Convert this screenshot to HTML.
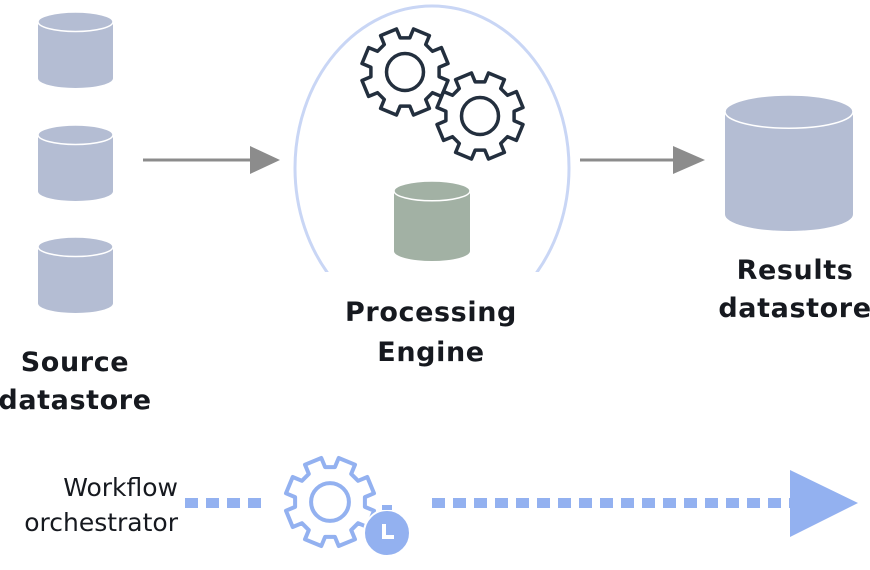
<!DOCTYPE html>
<html><head><meta charset="utf-8"><style>
body{margin:0;background:#fff;width:870px;height:565px;overflow:hidden}
text{font-family:"DejaVu Sans","Liberation Sans",sans-serif;fill:#16191f}
.b{font-weight:bold;font-size:27px;text-anchor:middle;letter-spacing:0.6px}
.n{font-size:25px;text-anchor:end}
</style></head><body>
<svg id="s" width="870" height="565" viewBox="0 0 870 565">
<defs><clipPath id="c"><rect x="0" y="0" width="870" height="272"/></clipPath></defs>
<ellipse cx="432" cy="168" rx="137" ry="162" fill="none" stroke="#c9d6f5" stroke-width="3" clip-path="url(#c)"/>
<line x1="143" y1="160" x2="252" y2="160" stroke="#8c8c8c" stroke-width="3"/>
<polygon points="250,146 280,160 250,174" fill="#8c8c8c"/>
<line x1="580" y1="160" x2="675" y2="160" stroke="#8c8c8c" stroke-width="3"/>
<polygon points="673,146 705,160 673,174" fill="#8c8c8c"/>
<line x1="185" y1="503" x2="265" y2="503" stroke="#93b1f0" stroke-width="10" stroke-dasharray="13,8"/>
<line x1="432" y1="503" x2="792" y2="503" stroke="#93b1f0" stroke-width="10" stroke-dasharray="13,8"/>
<polygon points="790,470 858,503 790,537" fill="#93b1f0"/>
<text class="b" x="75" y="371">Source</text>
<text class="b" x="75" y="409">datastore</text>
<text class="b" x="431" y="321">Processing</text>
<text class="b" x="431" y="361">Engine</text>
<text class="b" x="795" y="279">Results</text>
<text class="b" x="795" y="317">datastore</text>
<text class="n" x="178" y="496">Workflow</text>
<text class="n" x="178" y="531">orchestrator</text>
</svg>
<script>
var s=document.getElementById('s'),NS='http://www.w3.org/2000/svg';
function el(t,a){var e=document.createElementNS(NS,t);for(var k in a)e.setAttribute(k,a[k]);s.appendChild(e);return e;}
function gear(cx,cy,R,col,w){var n=8,r=R*0.8,tw=R*0.2,d='';
for(var i=0;i<n;i++){var a=i*2*Math.PI/n+Math.PI/8,ca=Math.cos(a),sa=Math.sin(a),px=-sa,py=ca;
var b=Math.asin(tw/r);
var pts=[[cx+r*Math.cos(a-b),cy+r*Math.sin(a-b)],[cx+R*ca-tw*px,cy+R*sa-tw*py],[cx+R*ca+tw*px,cy+R*sa+tw*py],[cx+r*Math.cos(a+b),cy+r*Math.sin(a+b)]];
pts.forEach(function(p,j){d+=(i==0&&j==0?'M':'L')+p[0].toFixed(1)+' '+p[1].toFixed(1)+' ';});}
d+='Z';el('path',{d:d,fill:'#fff',stroke:col,'stroke-width':w,'stroke-linejoin':'round'});
el('circle',{cx:cx,cy:cy,r:R*0.43,fill:'none',stroke:col,'stroke-width':w});}
function cyl(x,y,w,h,col){var ry=w*0.13;
el('path',{d:'M'+x+' '+(y+ry)+' V'+(y+h-ry)+' A'+(w/2)+' '+ry+' 0 0 0 '+(x+w)+' '+(y+h-ry)+' V'+(y+ry)+' Z',fill:col});
el('ellipse',{cx:x+w/2,cy:y+ry,rx:w/2,ry:ry,fill:col,stroke:'#fff','stroke-width':1.5});}
cyl(38,12,75,76,'#b4bdd3');cyl(38,125,75,76,'#b4bdd3');cyl(38,237,75,76,'#b4bdd3');
cyl(725,95,128,136,'#b4bdd3');cyl(394,181,76,80,'#a2b1a4');
gear(405,72,43,'#232f3e',3.5);gear(480,116,43,'#232f3e',3.5);
gear(330,502,44,'#93b1f0',4);
el('circle',{cx:387,cy:533,r:23,fill:'#93b1f0',stroke:'#fff','stroke-width':2});
el('rect',{x:382,y:505,width:10,height:5,fill:'#93b1f0'});
el('path',{d:'M384 524 V537 H394',stroke:'#fff','stroke-width':4,fill:'none'});
</script>
</body></html>
